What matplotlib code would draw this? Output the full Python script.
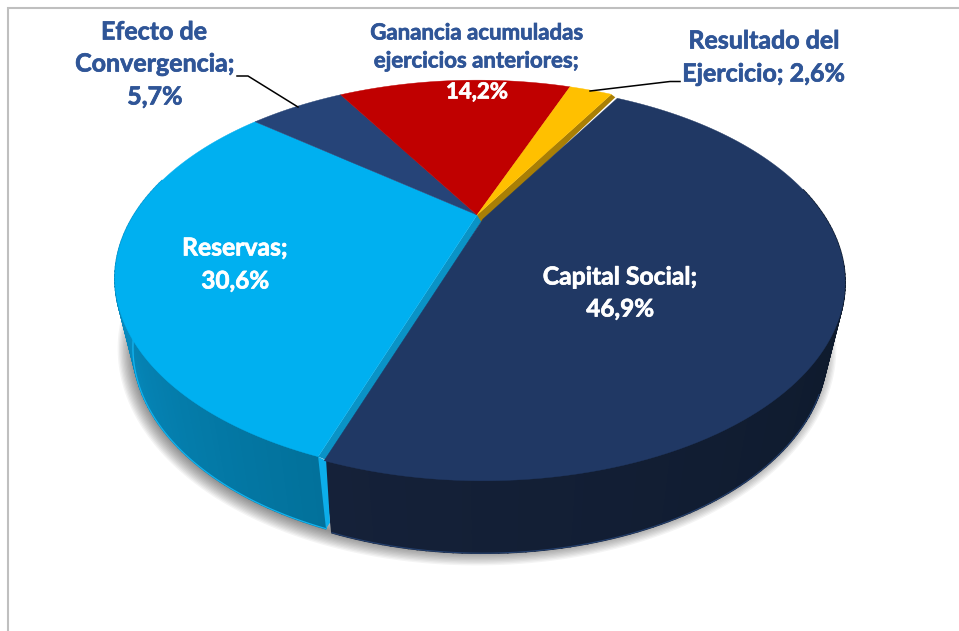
import numpy as np
import matplotlib
matplotlib.use('Agg')
import matplotlib.pyplot as plt
import matplotlib.patheffects as pe
from matplotlib.colors import to_rgb

# datos del grafico
categorias = ['Capital Social', 'Reservas', 'Efecto de Convergencia',
              'Ganancia acumuladas ejercicios anteriores', 'Resultado del Ejercicio']
valores = [46.9, 30.6, 5.7, 14.2, 2.6]
colores = ['#203864', '#00B0F0', '#264478', '#C00000', '#FFC000']

plt.rcParams['font.family'] = ['Lato', 'DejaVu Sans']
fig = plt.figure(figsize=(9.59, 6.31), dpi=100)
ax = fig.add_axes([0, 0, 1, 1])
ax.set_xlim(0, 959)
ax.set_ylim(631, 0)
ax.axis('off')

# marco gris (solo arriba e izquierda)
ax.plot([8, 8, 959], [631, 8, 8], color='#BFBFBF', lw=1.5, solid_joinstyle='miter')

# proyeccion con perspectiva del disco
k = 0.32
cx, cy = 477, 215
A, B = 343, 178
cx2, cy2 = 477, 283
A2, B2 = 326, 181
inicio = 30.0  # grados desde el norte, sentido horario


def top(ang, r=1.0, dx=0, dy=0):
    u, v = r * np.sin(np.radians(ang)), r * np.cos(np.radians(ang))
    d = 1 + k * v
    return cx + A * u / d + dx, cy - B * v / d + dy


def bottom(ang, r=1.0, dx=0, dy=0):
    u, v = r * np.sin(np.radians(ang)), r * np.cos(np.radians(ang))
    d = 1 + k * v
    return cx2 + A2 * u / d + dx, cy2 - B2 * v / d + dy


def mezcla(c1, c2, t):
    return tuple((1 - t) * np.array(to_rgb(c1)) + t * np.array(to_rgb(c2)))


# angulos de cada porcion a partir de los valores
limites = inicio + np.cumsum([0] + [v * 3.6 for v in valores])
desp = [(6, 4), (0, 0), (0, 0), (0, 0), (0, 0)]

# sombra difusa bajo el pie
aa = np.linspace(0, 360, 361)
sx, sy = bottom(aa, 1.0, 0, 1)
for i, w in enumerate(np.linspace(22, 1, 12)):
    ax.plot(sx, sy, color='#000000', alpha=0.045, lw=w, zorder=1)

# costado de Capital Social
a0, a1 = limites[0], limites[1]
aa = np.linspace(80, a1, 110)
for a, b in zip(aa[:-1], aa[1:]):
    t = np.clip((a - 90) / (a1 - 90), 0, 1)
    c = mezcla('#0C1829', '#152139', t)
    x1, y1 = top(a, 1, *desp[0])
    x2, y2 = top(b, 1, *desp[0])
    x3, y3 = bottom(b, 1, *desp[0])
    x4, y4 = bottom(a, 1, *desp[0])
    ax.fill([x1, x2, x3, x4], [y1, y2, y3, y4], color=c, lw=1.2, zorder=2)
xb, yb = bottom(np.linspace(120, a1, 60), 1, *desp[0])
ax.plot(xb, yb, color='#24406E', lw=0.8, zorder=3)

# costado de Reservas
a0, a1 = limites[1], limites[2]
aa = np.linspace(a0, 282, 80)
for a, b in zip(aa[:-1], aa[1:]):
    t = (a - a0) / (282 - a0)
    c = mezcla('#02719B', '#0A9BD5', t)
    x1, y1 = top(a)
    x2, y2 = top(b)
    x3, y3 = bottom(b)
    x4, y4 = bottom(a)
    ax.fill([x1, x2, x3, x4], [y1, y2, y3, y4], color=c, lw=1.2, zorder=2)
xb, yb = bottom(np.linspace(a0, 268, 60))
ax.plot(xb, yb, color='#12B4F0', lw=0.9, zorder=3)

# caras de corte que deja ver la porcion separada
px, py = top(limites[1])
qx, qy = bottom(limites[1])
ax.fill([px, qx, qx + 4, px + 8], [py, qy, qy - 6, py + 4], color='#0CAEEA', lw=0, zorder=3)
ax.fill([cx, px, px + 12, cx + 6], [cy, py, py + 5, cy + 4], color='#0A93C6', lw=0, zorder=4)
gx, gy = top(limites[0])
ax.fill([cx, gx, gx + 4, cx + 5], [cy, gy, gy + 3, cy + 8], color='#A97F05', lw=0, zorder=4)

# caras superiores
for i in [1, 2, 3, 4, 0]:
    a0, a1 = limites[i], limites[i + 1]
    dx, dy = desp[i]
    xr, yr = top(np.linspace(a0, a1, 120), 1, dx, dy)
    ax.fill(np.r_[cx + dx, xr], np.r_[cy + dy, yr], color=colores[i], lw=0.3, zorder=5)

# guias de las etiquetas
ax.plot([237, 248, 298], [76, 76, 107], color='#000000', lw=1.1, zorder=6)
ax.plot([590, 670, 680], [91, 81.5, 81.5], color='#000000', lw=1.1, zorder=6)


def pct(v):
    return f'{v:.1f}%'.replace('.', ',')


azul = '#2F5597'


def etiqueta(x, y, s, color, size):
    ax.text(x, y, s, color=color, fontsize=size, ha='center', va='center', fontweight='bold',
            zorder=7, path_effects=[pe.withStroke(linewidth=0.5, foreground=color)])


etiqueta(620, 277, 'Capital Social;', 'white', 17.8)
etiqueta(620, 309, pct(valores[0]), 'white', 17.5)
etiqueta(235, 248, 'Reservas;', 'white', 17.8)
etiqueta(235, 281, pct(valores[1]), 'white', 17.5)
etiqueta(154, 32, 'Efecto de', azul, 18)
etiqueta(155, 64, 'Convergencia;', azul, 18)
etiqueta(155, 97, pct(valores[2]), azul, 18)
etiqueta(477, 33, 'Ganancia acumuladas', azul, 16)
etiqueta(477, 61, 'ejercicios anteriores;', azul, 16)
etiqueta(477, 92, pct(valores[3]), 'white', 16)
etiqueta(764, 41, 'Resultado del', azul, 18)
etiqueta(764, 74, 'Ejercicio; ' + pct(valores[4]), azul, 18)

fig.savefig('out.png', dpi=100)
